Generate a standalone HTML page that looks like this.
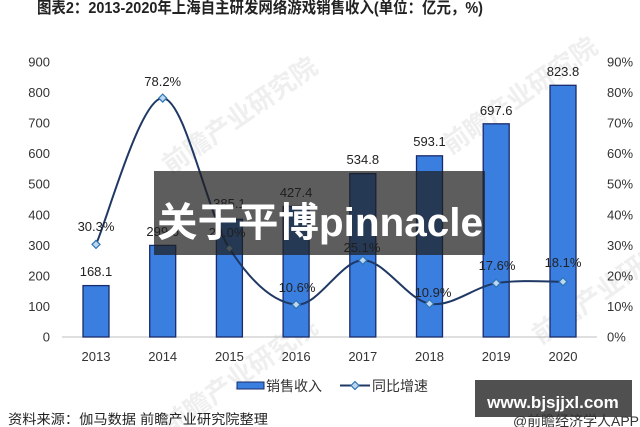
<!DOCTYPE html>
<html><head><meta charset="utf-8"><style>
html,body{margin:0;padding:0;background:#fff;}
svg{display:block;}
text{font-family:"Liberation Sans","Noto Sans CJK SC",sans-serif;}
</style></head><body>
<svg width="640" height="427" viewBox="0 0 640 427" xmlns="http://www.w3.org/2000/svg">
<rect width="640" height="427" fill="#fff"/>
<!-- watermarks -->
<g fill="#efefef" font-size="26" font-weight="bold">
<text x="150" y="150" transform="rotate(-35 200 130)">前瞻产业研究院</text>
<text x="430" y="130" transform="rotate(-35 480 110)">前瞻产业研究院</text>
<text x="150" y="410" transform="rotate(-35 200 390)">前瞻产业研究院</text>
<text x="520" y="320" transform="rotate(-35 570 300)">前瞻产业研究院</text>
</g>
<!-- title -->
<text x="37" y="13" font-size="16" font-weight="bold" fill="#222" textLength="446" lengthAdjust="spacingAndGlyphs">图表2：2013-2020年上海自主研发网络游戏销售收入(单位：亿元，%)</text>
<!-- left axis labels -->
<g font-size="13" fill="#333" text-anchor="end">
<text x="50" y="341.5">0</text>
<text x="50" y="310.9">100</text>
<text x="50" y="280.4">200</text>
<text x="50" y="249.8">300</text>
<text x="50" y="219.3">400</text>
<text x="50" y="188.7">500</text>
<text x="50" y="158.2">600</text>
<text x="50" y="127.6">700</text>
<text x="50" y="97.1">800</text>
<text x="50" y="66.5">900</text>
</g>
<g font-size="13" fill="#333" text-anchor="start">
<text x="607" y="341.5">0%</text>
<text x="607" y="310.9">10%</text>
<text x="607" y="280.4">20%</text>
<text x="607" y="249.8">30%</text>
<text x="607" y="219.3">40%</text>
<text x="607" y="188.7">50%</text>
<text x="607" y="158.2">60%</text>
<text x="607" y="127.6">70%</text>
<text x="607" y="97.1">80%</text>
<text x="607" y="66.5">90%</text>
</g>
<!-- axis line -->
<line x1="62" y1="337" x2="597" y2="337" stroke="#bfbfbf" stroke-width="1"/>
<!-- bars -->
<g fill="#3a7edf" stroke="#1a2b6a" stroke-width="1.3">
<rect x="83" y="285.6" width="26" height="51.4"/>
<rect x="149.7" y="245.4" width="26" height="91.6"/>
<rect x="216.4" y="219.3" width="26" height="117.7"/>
<rect x="283.1" y="206.4" width="26" height="130.6"/>
<rect x="349.8" y="173.6" width="26" height="163.4"/>
<rect x="416.5" y="155.8" width="26" height="181.2"/>
<rect x="483.2" y="123.8" width="26" height="213.2"/>
<rect x="550" y="85.3" width="26" height="251.7"/>
</g>
<!-- bar labels -->
<g font-size="13" fill="#222" text-anchor="middle">
<text x="96" y="276">168.1</text>
<text x="162.7" y="236">299.6</text>
<text x="229.4" y="208">385.1</text>
<text x="296.1" y="197">427.4</text>
<text x="362.8" y="164">534.8</text>
<text x="429.5" y="146">593.1</text>
<text x="496.2" y="115">697.6</text>
<text x="563" y="76">823.8</text>
</g>
<!-- x labels -->
<g font-size="13" fill="#333" text-anchor="middle">
<text x="96" y="361">2013</text>
<text x="162.7" y="361">2014</text>
<text x="229.4" y="361">2015</text>
<text x="296.1" y="361">2016</text>
<text x="362.8" y="361">2017</text>
<text x="429.5" y="361">2018</text>
<text x="496.2" y="361">2019</text>
<text x="563" y="361">2020</text>
</g>
<!-- line -->
<path d="M96,244.4 C107.1,220 140.5,97.4 162.7,98.1 C184.9,98.8 207.2,214 229.4,248.4 C251.6,282.8 273.9,302.6 296.1,304.6 C318.3,306.6 340.6,260.5 362.8,260.3 C385,260.2 407.3,299.9 429.5,303.7 C451.7,307.5 473.9,286.9 496.2,283.2 C518.5,279.5 551.9,281.9 563,281.7" fill="none" stroke="#1f3864" stroke-width="2"/>
<g fill="#bdd7ee" stroke="#2e75b6" stroke-width="1.2">
<path d="M96,240.4 L100,244.4 L96,248.4 L92,244.4Z"/>
<path d="M162.7,94.1 L166.7,98.1 L162.7,102.1 L158.7,98.1Z"/>
<path d="M229.4,244.4 L233.4,248.4 L229.4,252.4 L225.4,248.4Z"/>
<path d="M296.1,300.6 L300.1,304.6 L296.1,308.6 L292.1,304.6Z"/>
<path d="M362.8,256.3 L366.8,260.3 L362.8,264.3 L358.8,260.3Z"/>
<path d="M429.5,299.7 L433.5,303.7 L429.5,307.7 L425.5,303.7Z"/>
<path d="M496.2,279.2 L500.2,283.2 L496.2,287.2 L492.2,283.2Z"/>
<path d="M563,277.7 L567,281.7 L563,285.7 L559,281.7Z"/>
</g>
<!-- line labels -->
<g font-size="13" fill="#222" text-anchor="middle">
<text x="96" y="231">30.3%</text>
<text x="162.7" y="86">78.2%</text>
<text x="227" y="237">29.0%</text>
<text x="297" y="292">10.6%</text>
<text x="362" y="252">25.1%</text>
<text x="433" y="297">10.9%</text>
<text x="497" y="270">17.6%</text>
<text x="563" y="267">18.1%</text>
</g>
<!-- legend -->
<rect x="237" y="382" width="27" height="7" fill="#3a7edf" stroke="#1a2b6a" stroke-width="1"/>
<text x="266" y="391" font-size="14" fill="#333">销售收入</text>
<line x1="340" y1="385.5" x2="370" y2="385.5" stroke="#1f3864" stroke-width="2"/>
<path d="M355,381.5 L359,385.5 L355,389.5 L351,385.5Z" fill="#bdd7ee" stroke="#2e75b6" stroke-width="1.2"/>
<text x="372" y="391" font-size="14" fill="#333">同比增速</text>
<!-- source -->
<text x="8" y="424" font-size="13.5" fill="#222" textLength="260" lengthAdjust="spacingAndGlyphs">资料来源：伽马数据 前瞻产业研究院整理</text>
<!-- overlay -->
<rect x="154" y="171" width="331" height="84" fill="rgba(30,30,30,0.72)"/>
<text x="157" y="236" font-size="40" font-weight="bold" fill="#fff" textLength="326" lengthAdjust="spacingAndGlyphs">关于平博pinnacle</text>
<!-- bottom right -->
<rect x="475" y="380" width="157" height="37" fill="#505050"/>
<text x="553" y="408" font-size="17" font-weight="bold" fill="#fff" text-anchor="middle">www.bjsjjxl.com</text>
<text x="513" y="426" font-size="14" fill="#333" textLength="126" lengthAdjust="spacingAndGlyphs">@前瞻经济学人APP</text>
</svg>
</body></html>
